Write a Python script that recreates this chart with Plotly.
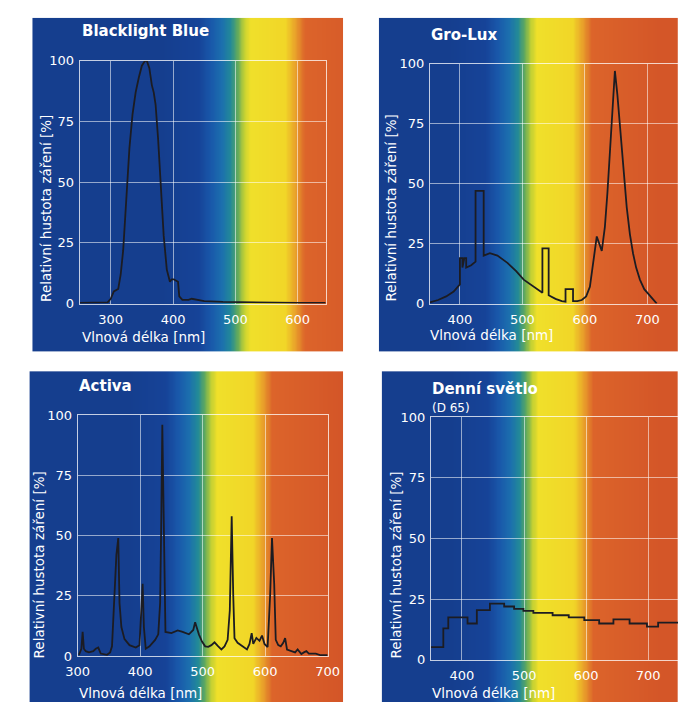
import numpy as np
import plotly.graph_objects as go

W, H = 690, 710

# ---------------- spectra ----------------
# Blacklight Blue
bb_wl = [250, 280, 295, 300, 305, 312, 316, 320, 325, 330, 335, 340, 345, 350, 355, 358,
         362, 366, 369, 372, 376, 380, 385, 390, 395, 398, 401, 408, 410, 415, 425, 430,
         440, 450, 480, 520, 600, 645]
bb_val = [0.3, 0.3, 0.5, 2, 5, 6, 12, 22, 45, 64, 78, 87, 93, 98, 100, 100,
          97, 90, 87, 82, 68, 50, 28, 14, 9, 10, 10, 9, 3, 1.5, 1.5, 2,
          1.5, 1, 0.7, 0.5, 0.3, 0.3]

# Gro-Lux
gl_wl = [352, 365, 378, 390, 400, 400, 404, 404, 407, 410, 410, 418, 425, 425, 438, 438,
         448, 460, 476, 490, 502, 515, 528, 532, 532, 542, 542, 553, 563, 569, 569, 581,
         581, 588, 595, 602, 608, 614, 619, 627, 632, 636, 640, 644, 648, 652, 657, 662,
         667, 672, 677, 682, 688, 695, 705, 715]
gl_val = [0.5, 1.5, 3, 5, 8, 19, 19, 15, 19, 19, 15, 16, 17.5, 47, 47, 20,
          21, 20, 17, 13.5, 10, 7.5, 5.3, 4.5, 23, 23, 3.5, 2, 1, 0.8, 6, 6,
          1, 1, 1.5, 3, 7, 19, 28, 22, 32, 46, 62, 77, 97, 87, 70, 53,
          40, 29, 21, 15, 10, 6, 3, 0]

# Activa
ac_wl = [302, 306, 308, 310, 313, 318, 325, 329, 333, 337, 347, 352, 355, 358, 362, 365,
         367, 370, 375, 383, 393, 399, 402, 404, 406, 409, 415, 424, 429, 432, 434, 435.5,
         437, 438.5, 440.5, 450, 460, 468, 478, 485, 488, 494, 499, 504, 509, 514, 519,
         525, 530, 535, 540, 543.5, 546.5, 549, 551, 556, 561, 566, 571, 575, 578.5, 581,
         586, 591, 595, 599, 604, 608, 611, 614.5, 617, 621, 625, 629, 632, 635, 643,
         648, 652, 656, 658, 662, 666, 670, 674, 681, 689, 697, 700]
ac_val = [0.5, 3, 10, 3, 2, 1.5, 2, 3, 3.5, 1, 0.5, 1.5, 4, 18, 42, 49,
          22, 12, 7, 4.5, 3.5, 4.5, 18, 30, 12, 3, 4, 6.7, 9, 22, 60, 96,
          70, 39, 10, 9.5, 10.6, 10, 9, 10.8, 14, 9, 6, 4, 3.8, 4.5, 5.7,
          4, 2.7, 4, 6.7, 19, 58, 25, 7.4, 5.5, 4.5, 3.5, 2.7, 5, 9.5, 5,
          7.5, 6.3, 8.5, 5, 3.7, 25, 49, 30, 6.7, 4.5, 4, 5.5, 7.4, 2.7, 2,
          1.5, 2.7, 1.5, 0.8, 1.5, 2, 1, 1, 1, 0.3, 0.5, 0.3]

# Denní světlo (D 65): step edges and level of each step
d65_edges = [349, 370, 378, 409, 424, 445, 468, 484, 499, 515, 546, 572, 597, 621, 644,
             670, 698, 716, 750]
d65_val = [5.3, 13, 17.5, 15, 20.5, 23.2, 22, 21, 20.2, 19.4, 18.4, 17.5, 16.4, 15,
           16.7, 15, 13.7, 15.4]

panel_titles = ["Blacklight Blue", "Gro-Lux", "Activa", "Denní světlo"]
d65_note = "(D 65)"
x_label = "Vlnová délka [nm]"
y_label = "Relativní hustota záření [%]"
y_ticks = [0, 25, 50, 75, 100]
x_ticks = [[300, 400, 500, 600], [400, 500, 600, 700],
           [300, 400, 500, 600, 700], [400, 500, 600, 700]]

# visible-spectrum backdrop: wavelength (nm) -> colour
spec_nm = [380, 440, 460, 478, 492, 503, 513, 523, 580, 596, 611, 720]
spec_rgb = ["rgb(21,62,142)", "rgb(22,67,152)", "rgb(25,88,170)", "rgb(28,112,174)",
            "rgb(35,138,152)", "rgb(98,170,92)", "rgb(194,208,52)", "rgb(240,224,42)",
            "rgb(241,214,40)", "rgb(233,160,42)", "rgb(220,100,42)", "rgb(212,86,40)"]

# ---------------- geometry (pixels) ----------------
# box = coloured card, plot = axes rectangle, xr = wavelength range of the axes
panels = [
    dict(box=(21, 11, 343, 352), plot=(70, 55, 325, 303), xr=(250, 645)),
    dict(box=(380, 11, 690, 352), plot=(433, 58, 690, 303), xr=(352, 749)),
    dict(box=(18, 372, 343, 710), plot=(68, 417, 327, 663), xr=(300, 700)),
    dict(box=(383, 372, 690, 710), plot=(434, 419, 690, 667), xr=(350, 748)),
]
series = [(bb_wl, bb_val, "linear"), (gl_wl, gl_val, "linear"),
          (ac_wl, ac_val, "linear"), (d65_edges, d65_val + d65_val[-1:], "hv")]

FONT = "DejaVu Sans"
WHITE = "#ffffff"
lo, hi = spec_nm[0], spec_nm[-1]
colorscale = [[(n - lo) / (hi - lo), c] for n, c in zip(spec_nm, spec_rgb)]


def px_x(p):
    return p / W


def px_y(p):
    return 1 - p / H


fig = go.Figure()
layout = dict(width=W, height=H, margin=dict(l=0, r=0, t=0, b=0),
              paper_bgcolor="white", plot_bgcolor="rgba(0,0,0,0)",
              showlegend=False, annotations=[])

for i, p in enumerate(panels):
    bx0, by0, bx1, by1 = p["box"]
    qx0, qy0, qx1, qy1 = p["plot"]
    w0, w1 = p["xr"]
    scale = (qx1 - qx0) / (w1 - w0)
    bg_l = w0 - (qx0 - bx0) / scale
    bg_r = w1 + (bx1 - qx1) / scale

    # backdrop subplot (ids 1..4)
    k = i + 1
    sfx = "" if k == 1 else str(k)
    grad_x = np.arange(bg_l - 6, bg_r + 6, 2.0)
    fig.add_trace(go.Heatmap(
        x=grad_x, y=[-1, 2], z=[grad_x, grad_x], zmin=lo, zmax=hi,
        colorscale=colorscale, showscale=False, zsmooth="best", hoverinfo="skip",
        xaxis="x" + sfx, yaxis="y" + sfx))
    layout["xaxis" + sfx] = dict(domain=[px_x(bx0), px_x(bx1)], range=[bg_l, bg_r],
                                 visible=False, anchor="y" + sfx)
    layout["yaxis" + sfx] = dict(domain=[px_y(by1), px_y(by0)], range=[0, 1],
                                 visible=False, anchor="x" + sfx)

    # data subplot (ids 5..8)
    d = str(i + 5)
    xs, ys, shape = series[i]
    fig.add_trace(go.Scatter(x=xs, y=ys, mode="lines",
                             line=dict(color="#1c1c22", width=1.8, shape=shape),
                             xaxis="x" + d, yaxis="y" + d, hoverinfo="skip"))
    axis_common = dict(showgrid=True, gridcolor="rgba(255,255,255,0.55)", gridwidth=1,
                       showline=True, linecolor="rgba(255,255,255,0.75)", linewidth=1,
                       mirror=True, ticks="", zeroline=False,
                       tickfont=dict(family=FONT, size=13, color=WHITE))
    layout["xaxis" + d] = dict(axis_common, domain=[px_x(qx0), px_x(qx1)],
                               range=[w0, w1], tickvals=x_ticks[i], anchor="y" + d,
                               ticklabelstandoff=4 if i < 2 else 3)
    layout["yaxis" + d] = dict(axis_common, domain=[px_y(qy1), px_y(qy0)],
                               range=[0, 100], tickvals=y_ticks, anchor="x" + d,
                               ticklabelstandoff=2)

# ---------------- texts ----------------
title_pos = [(70, 25), (432, 29), (67, 387), (433, 390)]
xlab_pos = [(70, 337), (431, 335), (67, 701), (433, 701)]
ylab_pos = [(35, 303), (393, 303), (28, 668), (398, 668)]
ann = layout["annotations"]
for i in range(4):
    tx, ty = title_pos[i]
    ann.append(dict(text="<b>%s</b>" % panel_titles[i], x=px_x(tx), y=px_y(ty),
                    xref="paper", yref="paper", xanchor="left", yanchor="middle",
                    showarrow=False, font=dict(family=FONT, size=15, color=WHITE)))
    lx, ly = xlab_pos[i]
    ann.append(dict(text=x_label, x=px_x(lx), y=px_y(ly), xref="paper", yref="paper",
                    xanchor="left", yanchor="middle", showarrow=False,
                    font=dict(family=FONT, size=13.5, color=WHITE)))
    vx, vy = ylab_pos[i]
    ann.append(dict(text=y_label, x=px_x(vx), y=px_y(vy), xref="paper", yref="paper",
                    xanchor="center", yanchor="bottom", textangle=-90, showarrow=False,
                    font=dict(family=FONT, size=13.5, color=WHITE)))
ann.append(dict(text=d65_note, x=px_x(433), y=px_y(410), xref="paper", yref="paper",
                xanchor="left", yanchor="middle", showarrow=False,
                font=dict(family=FONT, size=12, color=WHITE)))

fig.update_layout(**layout)
fig.write_html("out.html")
